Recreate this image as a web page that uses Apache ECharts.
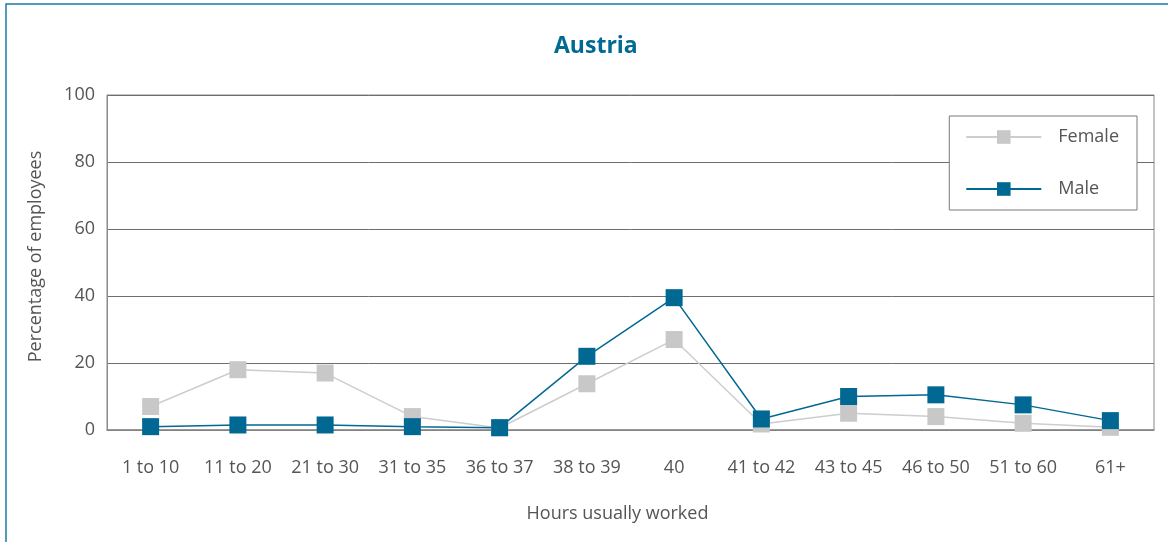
<!DOCTYPE html>
<html>
<head>
<meta charset="utf-8">
<script src="https://cdn.jsdelivr.net/npm/echarts@6/dist/echarts.min.js"></script>
<style>
  html, body { margin: 0; padding: 0; background: #fff; }
  #chart { width: 1168px; height: 542px; }
</style>
</head>
<body>
<div id="chart"></div>
<script>
var categories = ['1 to 10', '11 to 20', '21 to 30', '31 to 35', '36 to 37', '38 to 39', '40',
  '41 to 42', '43 to 45', '46 to 50', '51 to 60', '61+']
var female = [7, 18, 17, 4, 0.6, 13.8, 27, 1.8, 5, 4, 2, 0.8]
var male = [1, 1.5, 1.5, 1, 0.7, 22, 39.5, 3.3, 10, 10.5, 7.5, 2.8]
var yTicks = [0, 20, 40, 60, 80, 100]

var font = 'Open Sans'
var chart = echarts.init(document.getElementById('chart'))

chart.setOption({
  animation: false,
  textStyle: { fontFamily: font },
  title: {
    text: 'Austria',
    left: 549,
    top: 30,
    textStyle: { fontSize: 23, fontWeight: 'bold', color: '#006a94', fontFamily: font }
  },
  graphic: [{
    type: 'rect',
    shape: { x: 6, y: 4, width: 1200, height: 600 },
    style: { fill: 'none', stroke: '#1a7bab', lineWidth: 1.5 },
    silent: true
  }],
  legend: {
    orient: 'vertical',
    right: 31,
    top: 116,
    padding: [12, 18, 12, 16],
    itemWidth: 75,
    itemHeight: 17,
    itemGap: 34,
    borderColor: '#7a7a7a',
    borderWidth: 1,
    backgroundColor: '#fff',
    textStyle: { fontSize: 18, color: '#555', padding: [0, 0, 0, 12] },
    data: ['Female', 'Male']
  },
  grid: {
    left: 107,
    right: 14,
    top: 95,
    bottom: 112,
    show: true,
    borderColor: '#8a8a8a',
    borderWidth: 1
  },
  xAxis: {
    type: 'category',
    data: categories,
    boundaryGap: true,
    name: 'Hours usually worked',
    nameLocation: 'middle',
    nameGap: 75,
    nameTextStyle: { fontSize: 18, color: '#555', padding: [0, 26, 0, 0] },
    axisLine: { lineStyle: { color: '#8a8a8a', width: 1.5 } },
    axisTick: { inside: true, length: 8, lineStyle: { color: '#777' } },
    axisLabel: { fontSize: 18, color: '#555', margin: 29, interval: 0, hideOverlap: false }
  },
  yAxis: {
    type: 'value',
    min: yTicks[0],
    max: yTicks[yTicks.length - 1],
    interval: 20,
    name: 'Percentage of employees',
    nameLocation: 'middle',
    nameGap: 62,
    nameTextStyle: { fontSize: 18, color: '#555', padding: [0, 0, 0, 12] },
    axisLine: { show: true, lineStyle: { color: '#8a8a8a', width: 1 } },
    axisTick: { show: false },
    axisLabel: { fontSize: 18, color: '#555', margin: 12 },
    splitLine: { lineStyle: { color: '#6e6e6e', width: 1 } }
  },
  series: [
    {
      name: 'Female',
      type: 'line',
      data: female,
      symbol: 'rect',
      symbolSize: 17,
      clip: false,
      color: '#c8c8c9',
      lineStyle: { color: '#cdcdcd', width: 1.5 },
      itemStyle: { color: '#c8c8c9' }
    },
    {
      name: 'Male',
      type: 'line',
      data: male,
      symbol: 'rect',
      symbolSize: 17,
      clip: false,
      color: '#006892',
      lineStyle: { color: '#006892', width: 1.5 },
      itemStyle: { color: '#006892' }
    }
  ]
})
</script>
</body>
</html>
